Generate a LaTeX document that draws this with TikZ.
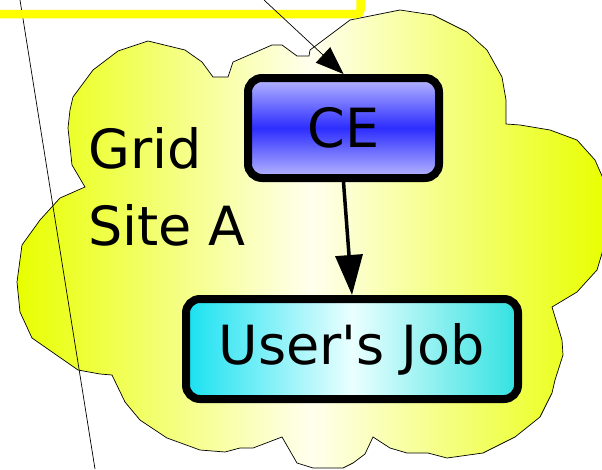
\documentclass[tikz,border=0pt]{standalone}
\usepackage{fontspec}
\setmainfont{DejaVu Sans}
\usetikzlibrary{arrows.meta}
\definecolor{cloudY}{RGB}{232,255,0}
\definecolor{cloudW}{RGB}{255,255,238}
\definecolor{ceLight}{RGB}{185,185,255}
\definecolor{ceDark}{RGB}{45,45,255}
\definecolor{jobL}{RGB}{25,225,240}
\definecolor{jobR}{RGB}{50,225,225}
\definecolor{jobM}{RGB}{235,255,255}
\definecolor{barY}{RGB}{255,255,0}
\tikzset{
  bigtext/.style={font=\fontsize{54pt}{77pt}\selectfont},
  boxnode/.style={draw=black, line width=8pt, rounded corners=14pt, inner sep=0pt, bigtext},
  cloudshape/.style={draw=black, line width=0.7pt, left color=cloudY, right color=cloudY, middle color=cloudW},
  thinline/.style={draw=black, line width=0.7pt},
  mainarrow/.style={line width=3.5pt, -{Triangle[length=40pt,width=27pt]}},
  smallarrow/.style={line width=0.7pt, -{Triangle[length=28pt,width=21pt]}},
  yellowbar/.style={draw=barY, line width=8.5pt, rounded corners=4pt}
}
\begin{document}
\begin{tikzpicture}[x=1pt,y=-1pt]
\useasboundingbox (0,0) rectangle (602,469);
\clip (0,0) rectangle (602,469);
% cloud
\path[cloudshape] (309,56) -- (310,50) -- (350,20) -- (365,17) -- (400,10) -- (433,15) -- (467,32) -- (487,50) -- (502,77) -- (506,100) -- (506,124) -- (520,125) -- (550,130) -- (577,140) -- (595,160) -- (606,185) -- (606,240) -- (597,270) -- (577,292) -- (552,307) -- (562,340) -- (563,355) -- (555,380) -- (552,393) -- (540,417) -- (515,437) -- (483,453) -- (447,458) -- (428,453) -- (407,453) -- (390,448) -- (373,437) -- (365,454) -- (353,463) -- (343,468) -- (313,468) -- (297,463) -- (282,437) -- (253,448) -- (240,448) -- (225,452) -- (200,450) -- (167,438) -- (140,420) -- (125,402) -- (112,375) -- (100,374) -- (78,370) -- (32,338) -- (20,312) -- (17,282) -- (22,245) -- (40,220) -- (60,198) -- (85,187) -- (72,165) -- (68,128) -- (70,110) -- (73,97) -- (93,70) -- (118,51) -- (148,41) -- (185,50) -- (202,62) -- (213,77) -- (228,77) -- (233,62) -- (272,45) -- (282,45) -- (297,56) -- cycle;
% thin left line
\coordinate (la) at (20,0);
\coordinate (lb) at (95,469);
\draw[thinline] (la) -- (lb);
% yellow bar
\coordinate (ya) at (-10,14);
\coordinate (yc) at (360.5,14);
\coordinate (yb) at (360.5,-10);
\draw[yellowbar] (ya) -- (yc) -- (yb);
% nodes
\node[boxnode, minimum width=191pt, minimum height=100pt, top color=ceLight, bottom color=ceLight, middle color=ceDark] (CE) at (343.5,128) {CE};
\node[boxnode, minimum width=332pt, minimum height=100pt, left color=jobL, right color=jobR, middle color=jobM] (job) at (352,349) {User\textquotesingle s Job};
\node[bigtext, align=left, anchor=base west, inner sep=0pt] (site) at (88,245) {Grid\\Site A};
% arrows
\coordinate (src) at (264,0);
\draw[smallarrow] (src) -- (CE.north);
\draw[mainarrow] (CE.south) -- (job.north);
\end{tikzpicture}
\end{document}
